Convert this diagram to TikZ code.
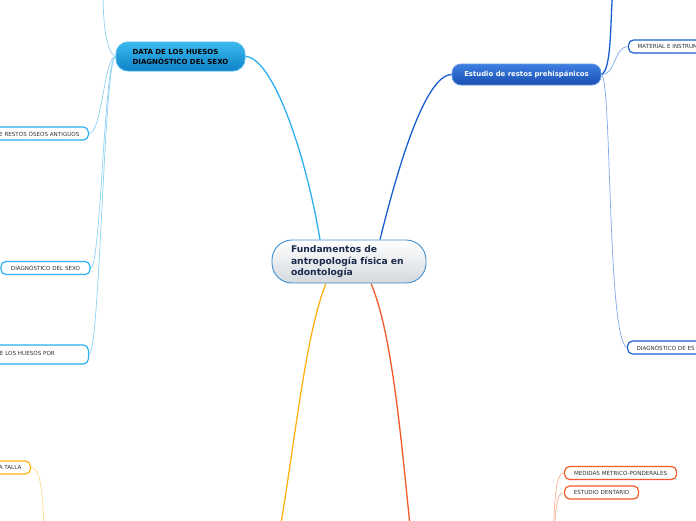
\documentclass[tikz,border=0pt]{standalone}
\usepackage{fontspec}
\setmainfont{DejaVu Sans}
\usetikzlibrary{backgrounds}
\definecolor{navy}{HTML}{1B2A4A}
\definecolor{cborder}{HTML}{3D8ED0}
\definecolor{skyb}{HTML}{2EB0F0}
\definecolor{skyl}{HTML}{8ED2F4}
\definecolor{dblue}{HTML}{1A5FD0}
\definecolor{lblue}{HTML}{7FA8EC}
\definecolor{yell}{HTML}{FFB214}
\definecolor{yelll}{HTML}{FFD98A}
\definecolor{oran}{HTML}{F05A28}
\definecolor{oranl}{HTML}{F8AE92}
\definecolor{txtg}{HTML}{333333}
\tikzset{
  centralbox/.style={draw=cborder, line width=0.9pt, rounded corners=20pt, top color=white, bottom color={rgb,255:red,212;green,217;blue,222},
    minimum width=154pt, minimum height=43pt, text width=116pt, align=left, inner xsep=19pt,
    font=\fontsize{9.2}{11.5}\selectfont\bfseries, text=navy},
  databox/.style={draw={rgb,255:red,70;green,185;blue,240}, line width=0.8pt, rounded corners=12pt,
    top color={rgb,255:red,58;green,186;blue,238}, bottom color={rgb,255:red,14;green,130;blue,200},
    minimum width=129pt, minimum height=29pt, align=left,
    font=\fontsize{7}{10}\selectfont\bfseries, text=black},
  estbox/.style={draw={rgb,255:red,100;green,150;blue,235}, line width=0.8pt, rounded corners=9pt,
    top color={rgb,255:red,62;green,128;blue,226}, bottom color={rgb,255:red,24;green,78;blue,176},
    minimum width=149pt, minimum height=21pt,
    font=\fontsize{6.9}{8}\selectfont\bfseries, text=white},
  leaf/.style={fill=white, line width=1.2pt, rounded corners=5pt, minimum height=13pt, inner xsep=9pt, inner ysep=0pt,
    font=\fontsize{5.6}{6.5}\selectfont, text=txtg},
  leafL/.style={leaf, draw=skyb},
  leafR/.style={leaf, draw=dblue},
  leafY/.style={leaf, draw=yell},
  leafO/.style={leaf, draw=oran},
  mainline/.style={line width=1.3pt},
  subline/.style={line width=0.7pt},
}
\begin{document}
\begin{tikzpicture}[x=1pt,y=-1pt]
\useasboundingbox (0,0) rectangle (696,520);

% coordinates for free ends (children off canvas)
\coordinate (topL) at (103,-12);
\coordinate (topR) at (613,-12);
\coordinate (botY) at (279,535);
\coordinate (botO) at (411,535);
\coordinate (botTalla) at (44,535);
\coordinate (botMed) at (553,535);
\coordinate (botEst) at (554,535);

\node[centralbox] (C) at (349,261.5) {Fundamentos de\\ antropología física en\\ odontología};
\node[databox] (D) at (180.5,56.5) {DATA DE LOS HUESOS\\ DIAGNÓSTICO DEL SEXO};
\node[estbox] (E) at (526.5,74.5) {Estudio de restos prehispánicos};

% left leaves
\node[leafL, anchor=east] (L1) at (89,133.5) {E RESTOS ÓSEOS ANTIGUOS};
\node[leafL, minimum width=89pt] (L2) at (45.5,268) {DIAGNÓSTICO DEL SEXO};
\node[leafL, anchor=east, minimum width=122pt, minimum height=19pt] (L3) at (89,354.5) {\raisebox{2.5pt}{E LOS HUESOS POR}};
\node[leafY, anchor=east] (Y1) at (31,467.5) {A TALLA};

% right leaves
\node[leafR, anchor=west] (R1) at (628,46.5) {MATERIAL E INSTRUM};
\node[leafR, anchor=west] (R2) at (627,347.5) {DIAGNÓSTICO DE ES};
\node[leafO, anchor=west, minimum width=112pt] (O1) at (564,473) {MEDIDAS MÉTRICO-PONDERALES};
\node[leafO, anchor=west, minimum width=74pt] (O2) at (564,492.5) {ESTUDIO DENTARIO};

\begin{scope}[on background layer]
\fill[white] (0,0) rectangle (696,520);
\draw[mainline, skyb] ([xshift=-29pt]C.north) .. controls (305,150) and (272,57) .. (D.east);
\draw[mainline, dblue] ([xshift=31pt]C.north) .. controls (396,175) and (424,75) .. (E.west);
\draw[mainline, yell] ([xshift=-23pt]C.south) .. controls (305,335) and (294,450) .. (botY);
\draw[mainline, oran] ([xshift=22pt]C.south) .. controls (393,335) and (402,450) .. (botO);
\draw[subline, skyl] (D.west) .. controls (106,52) and (103,25) .. (topL);
\draw[subline, skyl] (D.west) .. controls (104,57) and (102,133.5) .. (L1.east);
\draw[subline, skyl] (D.west) .. controls (104,57) and (101,268) .. (L2.east);
\draw[subline, skyl] (D.west) .. controls (104,57) and (100,354) .. (L3.east);
\draw[subline, yelll] (Y1.east) .. controls (40,467) and (43,490) .. (botTalla);
\draw[mainline, dblue] (E.east) .. controls (612,70) and (610,20) .. (topR);
\draw[subline, lblue] (E.east) .. controls (616,75) and (614,46.5) .. (R1.west);
\draw[subline, lblue] (E.east) .. controls (612,80) and (607,340) .. (R2.west);
\draw[subline, oranl] (O1.west) .. controls (556,473) and (555,495) .. (botMed);
\draw[subline, oranl] (O2.west) .. controls (557,492.5) and (556,505) .. (botEst);
\end{scope}
\end{tikzpicture}
\end{document}
